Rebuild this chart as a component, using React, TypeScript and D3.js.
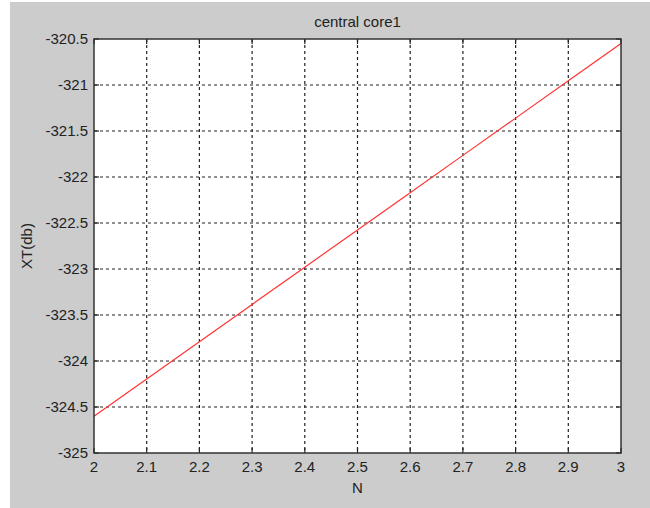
import React from "react";
import * as d3 from "d3";

const nValues = [2, 2.1, 2.2, 2.3, 2.4, 2.5, 2.6, 2.7, 2.8, 2.9, 3];
const xtValues = [-324.6, -324.195, -323.79, -323.385, -322.98, -322.575, -322.17, -321.765, -321.36, -320.955, -320.55];
const xTicks = [2, 2.1, 2.2, 2.3, 2.4, 2.5, 2.6, 2.7, 2.8, 2.9, 3];
const yTicks = [-325, -324.5, -324, -323.5, -323, -322.5, -322, -321.5, -321, -320.5];
const titleText = "central core1";
const xLabel = "N";
const yLabel = "XT(db)";

const W = 650, H = 508;
const L = 94, R = 621, T = 39, B = 453;
const FONT = "'Liberation Sans', Arial, sans-serif";

export default function App() {
  const x = d3.scaleLinear().domain([2, 3]).range([L, R]);
  const y = d3.scaleLinear().domain([-325, -320.5]).range([B, T]);
  const line = d3.line<number>().x((_, i) => x(nValues[i])).y((d) => y(d));
  const tl = 5;
  const fs = 15;
  return (
    <svg width={W} height={H} style={{ position: "absolute", left: 0, top: 0 }}>
      <rect x={0} y={0} width={W} height={H} fill="#ffffff" />
      <rect x={10} y={2} width={W - 10} height={H - 2} fill="#cccccc" />
      <rect x={L} y={T} width={R - L} height={B - T} fill="#ffffff" />
      {xTicks.slice(1, -1).map((t) => (
        <line key={"gx" + t} x1={x(t)} x2={x(t)} y1={T} y2={B} stroke="#222" strokeWidth={1.2} strokeDasharray="3,3" />
      ))}
      {yTicks.slice(1, -1).map((t) => (
        <line key={"gy" + t} x1={L} x2={R} y1={y(t)} y2={y(t)} stroke="#222" strokeWidth={1.2} strokeDasharray="3,3" />
      ))}
      {xTicks.map((t) => (
        <g key={"tx" + t}>
          <line x1={x(t)} x2={x(t)} y1={B} y2={B - tl} stroke="#222" strokeWidth={1.2} />
          <line x1={x(t)} x2={x(t)} y1={T} y2={T + tl} stroke="#222" strokeWidth={1.2} />
          <text x={x(t)} y={B + 19} textAnchor="middle" fontFamily={FONT} fontSize={fs} fill="#222">{String(t)}</text>
        </g>
      ))}
      {yTicks.map((t) => (
        <g key={"ty" + t}>
          <line x1={L} x2={L + tl} y1={y(t)} y2={y(t)} stroke="#222" strokeWidth={1.2} />
          <line x1={R} x2={R - tl} y1={y(t)} y2={y(t)} stroke="#222" strokeWidth={1.2} />
          <text x={L - 6} y={y(t) + 5} textAnchor="end" fontFamily={FONT} fontSize={fs} fill="#222">{String(t)}</text>
        </g>
      ))}
      <path d={line(xtValues) || ""} fill="none" stroke="#ff3333" strokeWidth={1.2} />
      <rect x={L} y={T} width={R - L} height={B - T} fill="none" stroke="#333" strokeWidth={1.5} />
      <text x={(L + R) / 2} y={27} textAnchor="middle" fontFamily={FONT} fontSize={fs} fill="#222">{titleText}</text>
      <text x={(L + R) / 2} y={493} textAnchor="middle" fontFamily={FONT} fontSize={fs} fill="#222">{xLabel}</text>
      <text transform={`translate(32,${(T + B) / 2}) rotate(-90)`} textAnchor="middle" fontFamily={FONT} fontSize={fs} fill="#222">{yLabel}</text>
    </svg>
  );
}
